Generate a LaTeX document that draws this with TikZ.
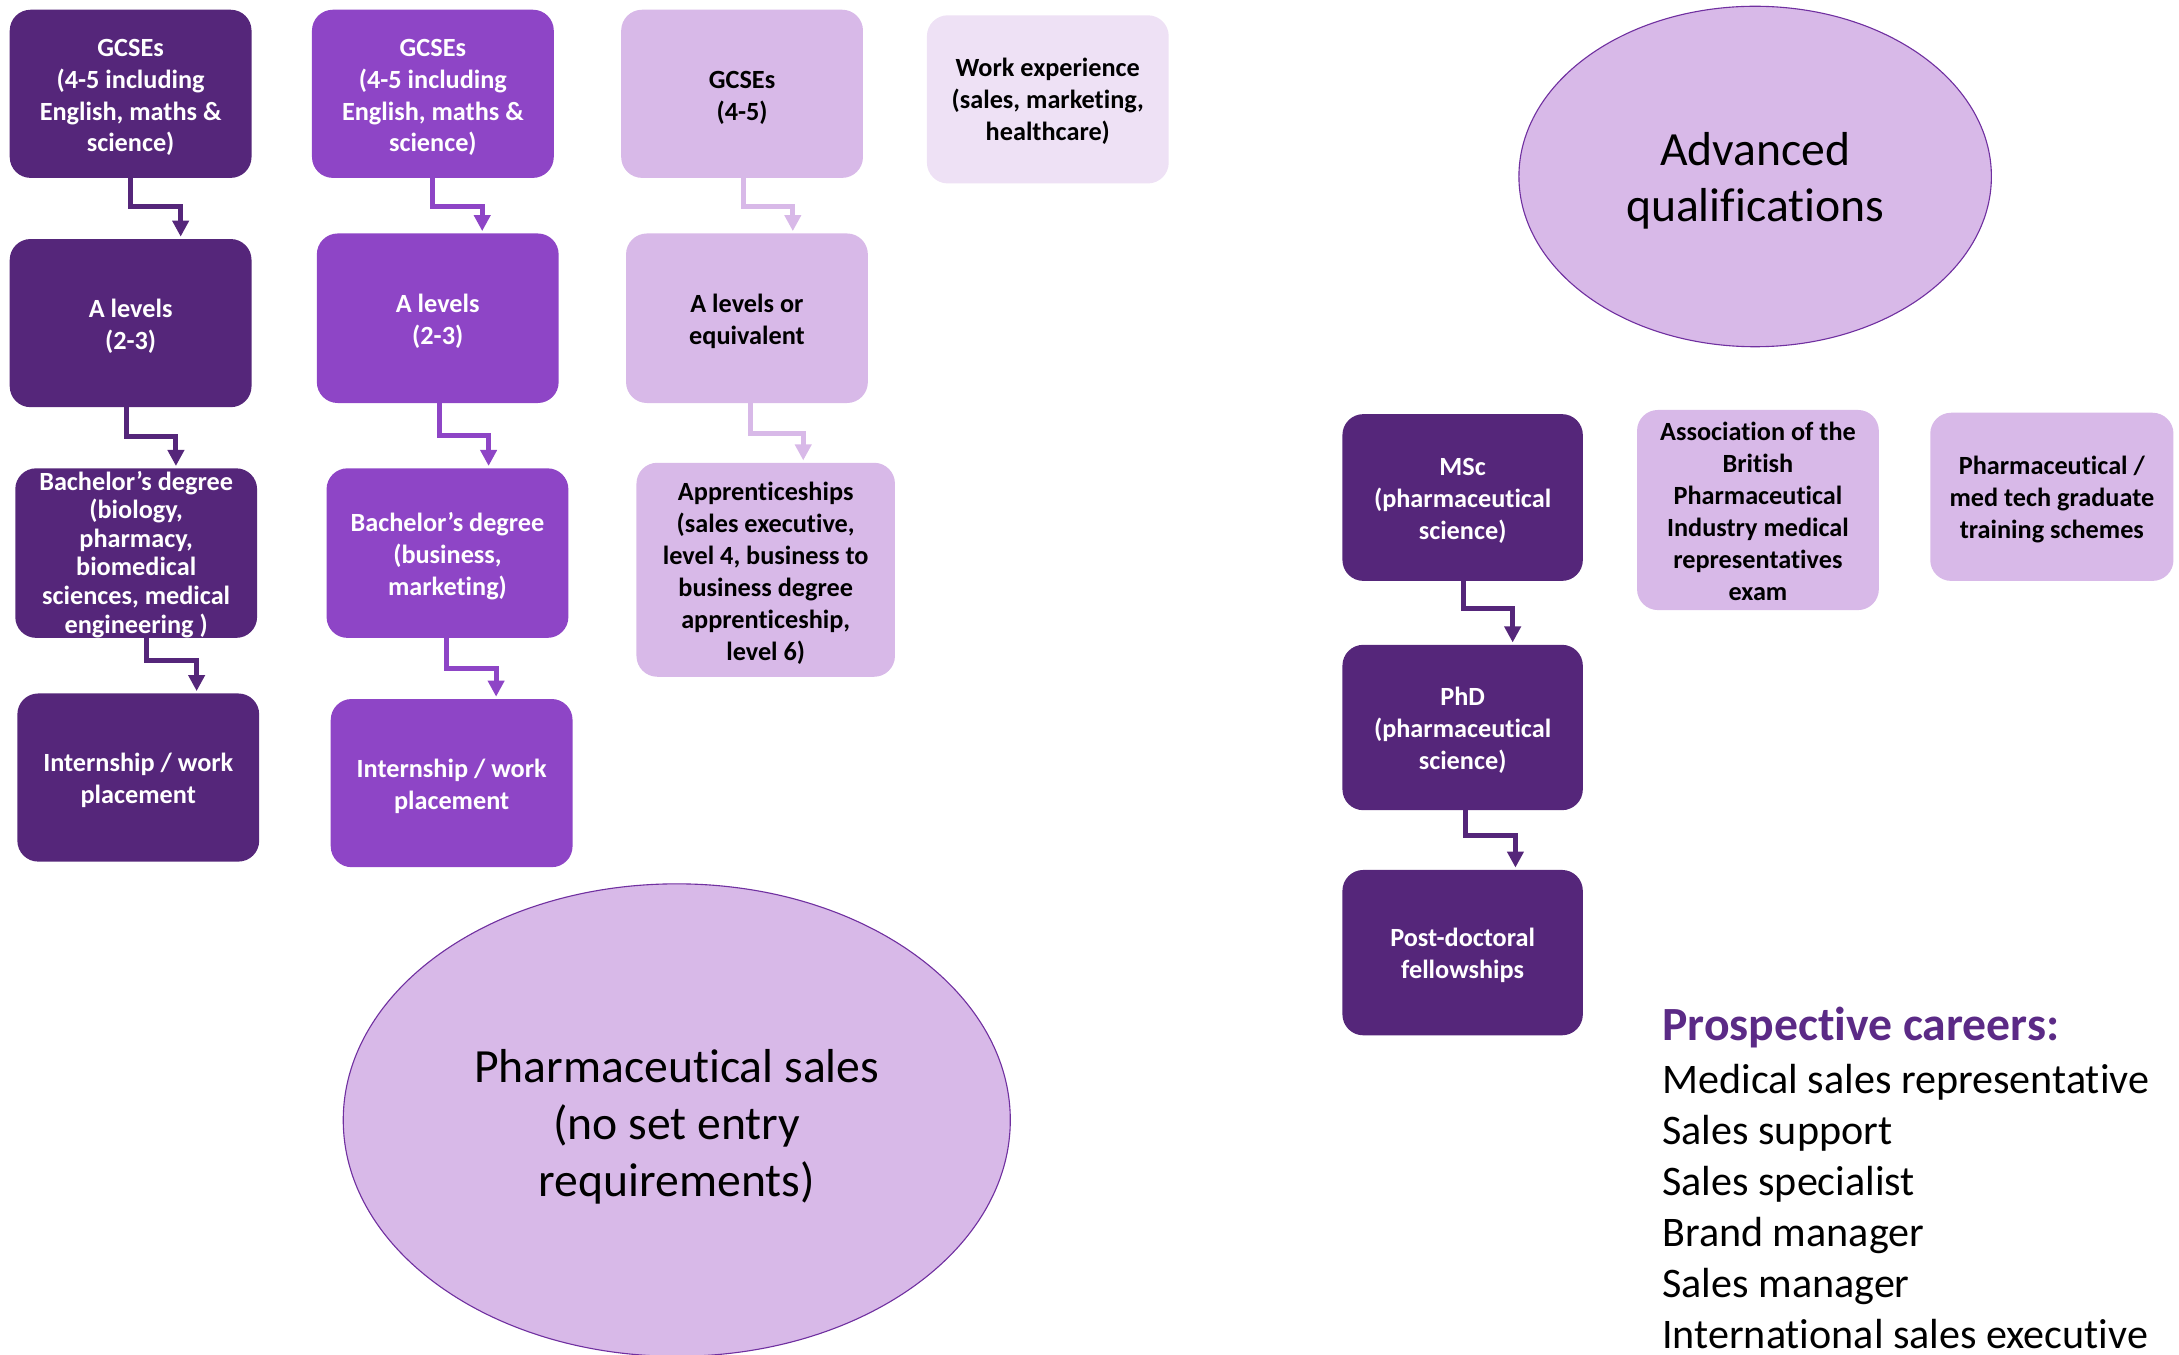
\documentclass[tikz,border=0pt]{standalone}
\usepackage{fontspec}
\setmainfont{Carlito}[Ligatures=NoCommon]
\usetikzlibrary{arrows.meta,calc,shapes.geometric}
\definecolor{dk}{HTML}{55267A}
\definecolor{md}{HTML}{8E45C6}
\definecolor{lt}{HTML}{D8B9E8}
\definecolor{vl}{HTML}{EEE1F5}
\definecolor{ol}{HTML}{7030A0}
\definecolor{ttl}{HTML}{5B2A86}
\newcommand\tup{\rule{0pt}{17.6pt}}
\begin{document}
\begin{tikzpicture}[x=1pt,y=-1pt,
  box/.style={rectangle, rounded corners=15pt, minimum width=174pt, minimum height=121pt,
    inner sep=0pt, align=center, font=\fontsize{18.9}{23}\selectfont\bfseries},
  dkbox/.style={box, fill=dk, text=white},
  mdbox/.style={box, fill=md, text=white},
  ltbox/.style={box, fill=lt, text=black},
  vlbox/.style={box, fill=vl, text=black},
  arr/.style={line width=3.6pt, -{Triangle[width=11.5pt,length=11.5pt]}, shorten >=1.5pt},
  oval/.style={ellipse, fill=lt, draw=ol, line width=0.8pt, inner sep=0pt, align=center,
    font=\fontsize{34.3}{41}\selectfont},
  career/.style={anchor=base west, inner sep=0pt, font=\fontsize{30.3}{37}\selectfont}]
\useasboundingbox (0,0) rectangle (1568,975);

% column 1
\node[dkbox] (c1g) at (94,67.5) {\tup GCSEs\\(4-5 including\\English, maths \&\\science)};
\node[dkbox] (c1a) at (94,232.5) {\tup A levels\\(2-3)};
\node[dkbox, minimum height=122pt, font=\fontsize{18.9}{20.6}\selectfont\bfseries] (c1b) at (98,398)
  {\rule{0pt}{15.5pt}Bachelor’s degree\\(biology,\\pharmacy,\\biomedical\\sciences, medical\\engineering )};
\node[dkbox] (c1i) at (99.5,559.5) {\tup Internship / work\\placement};

% column 2
\node[mdbox] (c2g) at (311.5,67.5) {\tup GCSEs\\(4-5 including\\English, maths \&\\science)};
\node[mdbox, minimum height=122pt] (c2a) at (315,229) {\tup A levels\\(2-3)};
\node[mdbox, minimum height=122pt] (c2b) at (322,398) {\tup Bachelor’s degree\\(business,\\marketing)};
\node[mdbox] (c2i) at (325,563.5) {\tup Internship / work\\placement};

% column 3
\node[ltbox] (c3g) at (534,67.5) {\tup GCSEs\\(4-5)};
\node[ltbox, minimum height=122pt] (c3a) at (537.5,229) {\tup A levels or\\equivalent};
\node[ltbox, minimum width=186pt, minimum height=154pt] (c3p) at (551,410)
  {\rule{0pt}{18.5pt}Apprenticeships\\(sales executive,\\level 4, business to\\business degree\\apprenticeship,\\level 6)};
\node[vlbox] (wexp) at (754,71.5) {\rule{0pt}{16.5pt}Work experience\\(sales, marketing,\\healthcare)};

% advanced
\node[oval, minimum width=340pt, minimum height=245pt]
  (adv) at (1263,127) {\rule{0pt}{30pt}Advanced\\qualifications};
\node[dkbox, minimum width=173pt, minimum height=120pt] (msc) at (1052.5,358) {\tup MSc\\(pharmaceutical\\science)};
\node[ltbox, minimum height=144pt] (abpi) at (1265,367)
  {\rule{0pt}{15.5pt}Association of the\\British\\Pharmaceutical\\Industry medical\\representatives\\exam};
\node[ltbox, minimum width=175pt] (grad) at (1476.5,357.5) {\tup Pharmaceutical /\\med tech graduate\\training schemes};
\node[dkbox, minimum width=173pt, minimum height=119pt] (phd) at (1052.5,523.5) {\tup PhD\\(pharmaceutical\\science)};
\node[dkbox, minimum width=173pt, minimum height=119pt] (post) at (1052.5,685.5) {\tup Post-doctoral\\fellowships};

% pharma sales
\node[oval, minimum width=480pt, minimum height=340pt]
  (sales) at (487,806) {\rule{0pt}{34pt}Pharmaceutical sales\\(no set entry\\requirements)};

% careers
\node[anchor=base west, inner sep=0pt, text=ttl, font=\fontsize{34.3}{41}\selectfont\bfseries]
  (ttlnode) at (1196,749) {Prospective careers:};
\foreach \t [count=\i] in {Medical sales representative, Sales support, Sales specialist,
    Brand manager, Sales manager, International sales executive}
  \node[career] (car\i) at (1196,{787+36.7*(\i-1)}) {\t};

% connectors
\draw[arr, dk] (c1g.south) -- ++(0,20.6) -| ($(c1a.north)+(36,0)$);
\draw[arr, dk] ($(c1a.south)+(-3,0)$) -- ++(0,21) -| ($(c1b.north)+(28.6,0)$);
\draw[arr, dk] ($(c1b.south)+(7.5,0)$) -- ++(0,16) -| ($(c1i.north)+(42,0)$);
\draw[arr, md] (c2g.south) -- ++(0,20.6) -| ($(c2a.north)+(32,0)$);
\draw[arr, md] ($(c2a.south)+(1,0)$) -- ++(0,23) -| ($(c2b.north)+(29.6,0)$);
\draw[arr, md] ($(c2b.south)+(-0.5,0)$) -- ++(0,22) -| ($(c2i.north)+(32,0)$);
\draw[arr, lt] ($(c3g.south)+(0.7,0)$) -- ++(0,20.6) -| ($(c3a.north)+(33,0)$);
\draw[arr, lt] ($(c3a.south)+(2.5,0)$) -- ++(0,22) -| ($(c3p.north)+(27,0)$);
\draw[arr, dk] ($(msc.south)+(0.5,0)$) -- ++(0,19.6) -| ($(phd.north)+(36,0)$);
\draw[arr, dk] ($(phd.south)+(2,0)$) -- ++(0,18) -| ($(post.north)+(38,0)$);
\end{tikzpicture}
\end{document}
